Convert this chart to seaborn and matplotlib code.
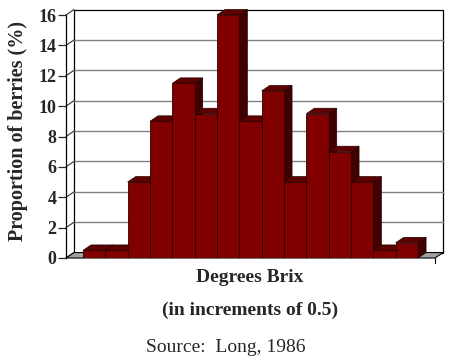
import matplotlib
matplotlib.use("Agg")
import matplotlib.pyplot as plt
from matplotlib.patches import Polygon, Rectangle
import seaborn as sns
import pandas as pd

# share of berries in each 0.5 degree Brix bin
bins = [f"b{i}" for i in range(1, 16)]
share = [0.5, 0.5, 5, 9, 11.5, 9.5, 16, 9, 11, 5, 9.5, 7, 5, 0.5, 1]
yticks = [0, 2, 4, 6, 8, 10, 12, 14, 16]

df = pd.DataFrame({"bin": bins, "share": share})

sns.set_style("white")
plt.rcParams["font.family"] = ["Liberation Serif", "DejaVu Serif"]

fig = plt.figure(figsize=(4.5, 3.63), dpi=100)
ax = fig.add_axes([66 / 450, 1 - 258 / 363, 369 / 450, 243 / 363])

front = "#800000"
top_c = "#5c0000"
side_c = "#3e0000"
edge_c = "#2a0000"

sns.barplot(data=df, x="bin", y="share", color=front, width=1,
            edgecolor=edge_c, linewidth=0.6, saturation=1, ax=ax, zorder=3)
bars = list(ax.patches)

xmin, xmax = -1.26, len(bins) - 1 + 1.26
ymax = 16
ax.set_xlim(xmin, xmax)
ax.set_ylim(0, ymax)

# 3d depth offsets, data units
dx, dy = 0.36, 0.36

# back wall with grid
ax.add_patch(Rectangle((xmin + dx, dy), xmax - xmin, ymax, facecolor="white",
                       edgecolor="black", lw=0.9, zorder=0.5, clip_on=False))
for v in yticks[1:-1]:
    ax.plot([xmin + dx, xmax + dx], [v + dy, v + dy], color="#808080", lw=1,
            zorder=0.6, clip_on=False)
for v in yticks:
    ax.plot([xmin, xmin + dx], [v, v + dy], color="#303030", lw=0.8,
            zorder=0.7, clip_on=False)

# floor
ax.add_patch(Polygon([(xmin, 0), (xmax, 0), (xmax + dx, dy), (xmin + dx, dy)],
                     closed=True, facecolor="#a0a0a0", edgecolor="black",
                     lw=0.8, zorder=1, clip_on=False))
ax.plot([xmax, xmax], [0, -0.35], color="black", lw=0.8, clip_on=False)

# top and side faces of each bar
for p in bars:
    x0 = p.get_x()
    w = p.get_width()
    h = p.get_height()
    x1 = x0 + w
    ax.add_patch(Polygon([(x0, h), (x1, h), (x1 + dx, h + dy), (x0 + dx, h + dy)],
                         closed=True, facecolor=top_c, edgecolor=edge_c,
                         lw=0.5, zorder=2, clip_on=False))
    ax.add_patch(Polygon([(x1, 0), (x1 + dx, dy), (x1 + dx, h + dy), (x1, h)],
                         closed=True, facecolor=side_c, edgecolor=edge_c,
                         lw=0.5, zorder=2, clip_on=False))

ax.set_xticks([])
ax.set_yticks(yticks)
ax.set_yticklabels([str(v) for v in yticks], fontweight="bold", fontsize=13)
ax.tick_params(axis="y", length=6, width=0.9, pad=1, direction="out", left=True)
ax.set_xlabel("")
ax.set_ylabel("")
for s in ["top", "right", "bottom"]:
    ax.spines[s].set_visible(False)
ax.spines["left"].set_linewidth(0.9)
ax.spines["left"].set_color("black")
ax.patch.set_alpha(0)

fig.text(18 / 450, 1 - 131 / 363, "Proportion of berries (%)", rotation=90,
         ha="center", va="center", fontweight="bold", fontsize=14.5)
fig.text(250 / 450, 1 - 278 / 363, "Degrees Brix", ha="center", va="center",
         fontweight="bold", fontsize=14)
fig.text(250 / 450, 1 - 310 / 363, "(in increments of 0.5)", ha="center",
         va="center", fontweight="bold", fontsize=14)
fig.text(226 / 450, 1 - 347 / 363, "Source:  Long, 1986", ha="center",
         va="center", fontsize=14)

fig.savefig("out.png", dpi=100)
